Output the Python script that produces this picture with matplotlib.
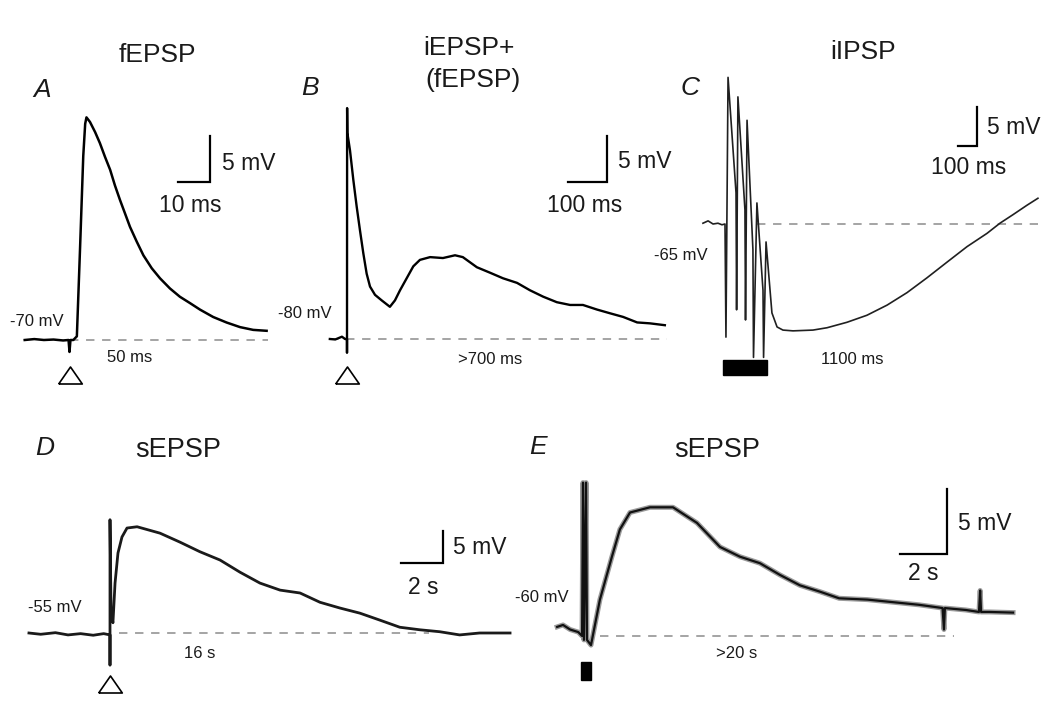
import matplotlib.pyplot as plt
from matplotlib.patches import Rectangle

W, H = 1050, 705
plt.rcParams['font.family'] = ['Liberation Sans', 'DejaVu Sans']

# A: fEPSP (time in ms, potential in mV)
a_t = [-14, -11, -8, -5, -2, -0.3, 0, 0.3, 1.2, 2.3, 3.3, 4.3, 4.9, 5.3, 6.4, 8.0, 9.5,
       11.1, 12.7, 14.2, 15.8, 17.3, 18.9, 21.0, 23.1, 25.7, 28.3, 31.4, 34.5, 37.7,
       40.8, 44.9, 49.1, 53.3, 57.4, 61.6]
a_v = [-70.0, -69.9, -70.0, -69.95, -70.05, -70.0, -71.3, -70.0, -70.0, -69.6, -60.0,
       -50.0, -46.5, -45.8, -46.3, -47.4, -48.6, -50.1, -51.5, -53.2, -54.8, -56.2, -57.7,
       -59.3, -60.8, -62.2, -63.3, -64.4, -65.3, -66.0, -66.7, -67.5, -68.1, -68.6, -68.9,
       -69.0]
a_dash = [0, 62]

# B: iEPSP + (fEPSP), ms / mV
b_t = [-44, -30, -13, -5, 0, 0, 0.3, 0.9, 7.7, 16.2, 24.8, 33.3, 41.9, 50.4, 59.0, 71.8,
       88.9, 110, 123, 136, 153, 170, 187, 213, 246, 277, 297, 333, 367, 400, 436, 469,
       503, 538, 572, 605, 641, 674, 708, 744, 777, 815]
b_v = [-80.0, -80.05, -79.75, -80.0, -80.0, -81.5, -54.9, -57.6, -59.5, -62.7, -65.6,
       -68.2, -70.7, -72.9, -74.3, -75.2, -75.8, -76.5, -75.8, -74.7, -73.4, -72.1, -71.4,
       -71.1, -71.2, -70.9, -71.1, -72.2, -72.8, -73.4, -73.9, -74.7, -75.4, -76.0, -76.3,
       -76.3, -76.8, -77.2, -77.6, -78.2, -78.3, -78.5]
b_dash = [-44, 820]

# C: iIPSP, ms / mV
c_t = [-116, -89, -63, -37, -16, 0, 5, 16, 58, 61, 68, 105, 108, 116, 147, 150, 168,
       200, 203, 216, 247, 274, 305, 358, 463, 537, 642, 747, 853, 958, 1063, 1168, 1274,
       1379, 1447, 1516, 1589, 1647]
c_v = [-64.9, -64.6, -65.0, -64.9, -65.1, -65.0, -79.5, -46.2, -61.0, -76.0, -48.7,
       -63.2, -77.3, -51.7, -68.3, -82.1, -62.3, -73.5, -82.1, -67.3, -76.4, -78.2, -78.6,
       -78.7, -78.6, -78.3, -77.6, -76.7, -75.4, -73.8, -71.9, -69.9, -67.9, -66.2, -64.9,
       -63.8, -62.6, -61.7]
c_dash = [168, 1647]
c_train = [-10, 222]

# D: sEPSP, s / mV
d_t = [-3.86, -3.3, -2.6, -2.0, -1.4, -0.8, -0.3, 0, 0, 0, 0.05, 0.14, 0.24, 0.38, 0.57,
       0.81, 1.29, 2.38, 3.33, 4.28, 5.24, 6.19, 7.14, 8.1, 9.05, 10.0, 10.95, 11.9, 12.86,
       13.8, 14.76, 15.7, 16.65, 17.6, 19.05]
d_v = [-55.0, -55.2, -54.95, -55.3, -55.1, -55.35, -55.1, -55.3, -60.0, -37.3, -51.9,
       -53.4, -47.2, -42.5, -40.0, -38.6, -38.4, -39.4, -40.8, -42.3, -43.6, -45.5, -47.2,
       -48.3, -48.75, -50.2, -51.1, -51.9, -53.0, -54.1, -54.5, -54.8, -55.3, -55.0, -55.0]
d_dash = [0.43, 15.2]

# E: sEPSP after train, s / mV
e_t = [-1.1, -0.85, -0.55, -0.2, -0.04, 0, 0.04, 0.13, 0.17, 0.34, 0.72, 1.23, 1.57, 2.0,
       2.85, 3.83, 4.85, 5.83, 6.68, 7.53, 8.38, 9.23, 10.1, 10.9, 12.1, 13.2, 14.3, 15.3,
       15.36, 15.4, 16.3, 16.85, 16.9, 16.94, 17.3, 18.3]
e_v = [-59.3, -59.15, -59.5, -59.7, -60.0, -48.2, -60.3, -48.2, -60.3, -60.7, -57.2,
       -53.9, -51.8, -50.5, -50.1, -50.1, -51.3, -53.15, -53.9, -54.4, -55.3, -56.1, -56.6,
       -57.1, -57.2, -57.4, -57.6, -57.85, -59.5, -57.85, -58.0, -58.15, -56.5, -58.15,
       -58.15, -58.2]
e_dash = [0.72, 15.8]
e_train = [-0.09, 0.34]

fig = plt.figure(figsize=(W / 100, H / 100), dpi=100)


def make_panel(x0, base, sx, sy, vrest):
    # axes over the whole figure; stimulus at pixel x0, resting level at pixel row base
    ax = fig.add_axes([0, 0, 1, 1])
    ax.set_xlim(-x0 / sx, (W - x0) / sx)
    ax.set_ylim(vrest - (H - base) / sy, vrest + base / sy)
    ax.set_axis_off()
    ax.patch.set_visible(False)
    ax.p = (x0, base, sx, sy, vrest)
    return ax


def to_data(ax, x, y):
    x0, base, sx, sy, vrest = ax.p
    return (x - x0) / sx, vrest + (base - y) / sy


def label(x, y, s, size=12, **kw):
    kw.setdefault('ha', 'center')
    fig.text(x / W, 1 - y / H, s, fontsize=size, va='center', color='#1a1a1a', **kw)


def scalebar(ax, xr, yb, dt, dv):
    tr, vb = to_data(ax, xr, yb)
    ax.plot([tr - dt, tr, tr], [vb, vb, vb + dv], color='black', lw=1.6,
            solid_joinstyle='miter')


def dashed(ax, span, vrest):
    ax.plot(span, [vrest, vrest], color='#8c8c8c', lw=1.1, ls=(0, (5.5, 5)))


tri = [(-1, -0.72), (1, -0.72), (0, 0.72), (-1, -0.72)]


def triangle(ax, y):
    _, v = to_data(ax, 0, y)
    ax.plot([0], [v], marker=tri, ms=17, mfc='white', mec='black', mew=1.2,
            clip_on=False)


def train(ax, span, y0, y1):
    _, v0 = to_data(ax, 0, y0)
    _, v1 = to_data(ax, 0, y1)
    ax.add_patch(Rectangle((span[0], v1), span[1] - span[0], v0 - v1, color='black'))


# A
ax = make_panel(69.5, 340, 3.2, 9.2, -70)
dashed(ax, a_dash, -70)
ax.plot(a_t, a_v, color='black', lw=1.8)
scalebar(ax, 210, 182, 10, 5)
triangle(ax, 375)
label(157, 55, 'fEPSP', 19)
label(42, 90, 'A', 19, style='italic')
label(222, 163, '5 mV', 16.5, ha='left')
label(190, 205, '10 ms', 16.5)
label(37, 322, '-70 mV', 12)
label(130, 358, '50 ms', 12)

# B
ax = make_panel(347, 339, 0.39, 9.2, -80)
dashed(ax, b_dash, -80)
ax.plot(b_t, b_v, color='black', lw=1.7)
scalebar(ax, 607, 182, 100, 5)
triangle(ax, 375)
label(469, 48, 'iEPSP+', 19)
label(473, 80, '(fEPSP)', 19)
label(310, 88, 'B', 19, style='italic')
label(618, 162, '5 mV', 16.5, ha='left')
label(585, 205, '100 ms', 16.5)
label(305, 313, '-80 mV', 12)
label(490, 360, '>700 ms', 12)

# C
ax = make_panel(725, 224, 0.19, 7.8, -65)
dashed(ax, c_dash, -65)
ax.plot(c_t, c_v, color='#202020', lw=1.2)
scalebar(ax, 977, 146, 100, 5)
train(ax, c_train, 360, 375)
label(863, 52, 'iIPSP', 19)
label(690, 88, 'C', 19, style='italic')
label(987, 128, '5 mV', 16.5, ha='left')
label(969, 168, '100 ms', 16.5)
label(681, 255, '-65 mV', 12)
label(852, 360, '1100 ms', 12)

# D
ax = make_panel(110, 633, 21, 6.4, -55)
dashed(ax, d_dash, -55)
ax.plot(d_t, d_v, color='#1a1a1a', lw=2.0)
scalebar(ax, 443, 563, 2, 5)
triangle(ax, 684)
label(45, 448, 'D', 19, style='italic')
label(178, 450, 'sEPSP', 19.5)
label(453, 548, '5 mV', 16.5, ha='left')
label(423, 588, '2 s', 16.5)
label(55, 608, '-55 mV', 12)
label(200, 653, '16 s', 12)

# E
ax = make_panel(583, 636, 23.5, 13, -60)
dashed(ax, e_dash, -60)
ax.plot(e_t, e_v, color='#9a9a9a', lw=3.6)
ax.plot(e_t, e_v, color='#111111', lw=1.6)
scalebar(ax, 947, 554, 2, 5)
train(ax, e_train, 662, 680)
label(538, 447, 'E', 19, style='italic')
label(717, 450, 'sEPSP', 19.5)
label(958, 523, '5 mV', 16.5, ha='left')
label(923, 573, '2 s', 16.5)
label(542, 598, '-60 mV', 12)
label(737, 653, '>20 s', 12)

fig.savefig('out.png', dpi=100, facecolor='white')
